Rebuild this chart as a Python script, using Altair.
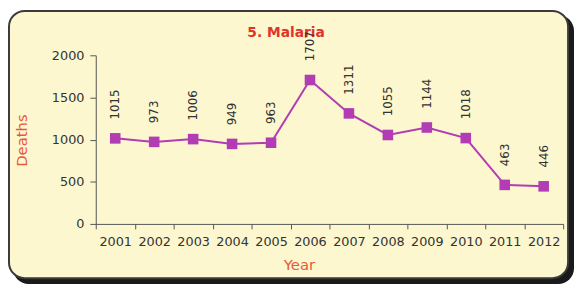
import altair as alt
import pandas as pd

years = ["2001", "2002", "2003", "2004", "2005", "2006", "2007", "2008", "2009", "2010", "2011", "2012"]
deaths = [1015, 973, 1006, 949, 963, 1707, 1311, 1055, 1144, 1018, 463, 446]
y_ticks = [0, 500, 1000, 1500, 2000]

df = pd.DataFrame({"Year": years, "Deaths": deaths})
one = pd.DataFrame({"a": [0]})

FONT = "DejaVu Sans"
MAG = "#B23CB4"

x_enc = alt.X("Year:N", sort=years, scale=alt.Scale(paddingInner=0, paddingOuter=0),
              axis=alt.Axis(title="Year", labelAngle=0, tickBand="extent", titleX=206, titleY=41,
                            titleBaseline="middle", titleAlign="center", zindex=1, labelPadding=7))
y_enc = alt.Y("Deaths:Q", scale=alt.Scale(domain=[0, 2000], nice=False),
              axis=alt.Axis(title="Deaths", values=y_ticks, format="d", grid=False, tickSize=6,
                            labelPadding=6, titleX=-75, titleY=86, titleAlign="center",
                            titleBaseline="middle", zindex=1))

shadow = alt.Chart(one).mark_rect(cornerRadius=16, color="#1a1a1a").encode(
    x=alt.value(-84), x2=alt.value(485), y=alt.value(-41), y2=alt.value(232))
card = alt.Chart(one).mark_rect(cornerRadius=16, fill="#FCF7CE", stroke="#3a3a3a", strokeWidth=2).encode(
    x=alt.value(-88), x2=alt.value(479), y=alt.value(-45), y2=alt.value(226))
title = alt.Chart(one).mark_text(text="5. Malaria", font=FONT, fontSize=14, fontWeight="bold",
                                 color="#E0342B").encode(x=alt.value(193), y=alt.value(-23))

base = alt.Chart(df).encode(x=x_enc, y=y_enc)
line = base.mark_line(color=MAG, strokeWidth=2)
pts = base.mark_point(shape="square", size=115, filled=True, color=MAG, opacity=1)
labels = base.mark_text(angle=270, align="left", baseline="middle", dx=19, font=FONT,
                        fontSize=12, color="#333333").encode(text="Deaths:Q")

chart = alt.layer(shadow, card, title, line, pts, labels).properties(
    width=474, height=171, autosize=alt.AutoSizeParams(type="none"),
    padding={"left": 89, "top": 46, "right": 11, "bottom": 63},
    background="white"
).configure_view(stroke=None).configure_axis(
    labelFont=FONT, titleFont=FONT, labelFontSize=13, labelColor="#333333",
    titleFontSize=15, titleFontWeight="normal", titleColor="#E8583A",
    domainColor="#555555", tickColor="#555555"
)

chart.save("out.html", embed_options={"renderer": "svg", "actions": False})
